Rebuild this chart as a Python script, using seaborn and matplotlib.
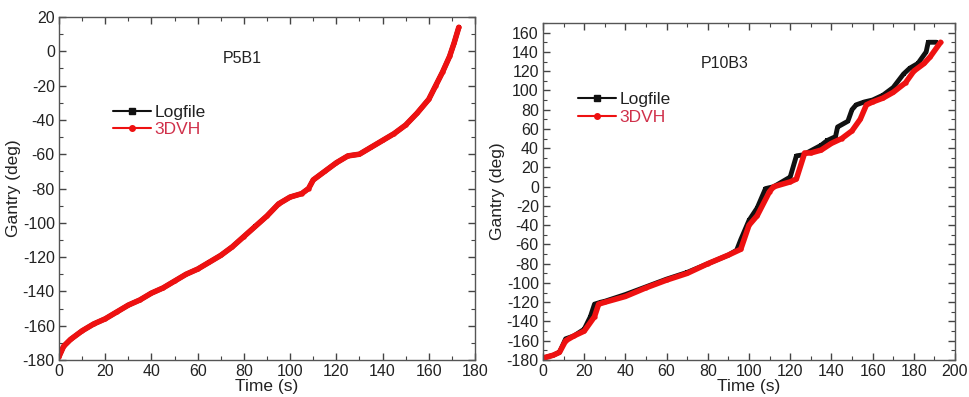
import numpy as np
import pandas as pd
import matplotlib
matplotlib.use('Agg')
import matplotlib.pyplot as plt
from matplotlib.lines import Line2D
from matplotlib.ticker import MultipleLocator
import seaborn as sns

# P5B1 (left panel): both series nearly identical
p5_time = [0, 1, 2, 5, 10, 15, 20, 25, 30, 35, 40, 45, 50, 55, 60, 65, 70, 75, 80, 85,
           90, 95, 100, 105, 108, 110, 115, 120, 125, 130, 135, 140, 145, 150, 155,
           160, 163, 166, 169, 171, 173]
p5_log = [-178, -175, -172, -168, -163, -159, -156, -152, -148, -145, -141, -138, -134,
          -130, -127, -123, -119, -114, -108, -102, -96, -89, -85, -83, -80, -75, -70,
          -65, -61, -60, -56, -52, -48, -43, -36, -28, -20, -12, -3, 5, 14]
p5_3dvh = [-178, -175, -172, -168, -163, -159, -156, -152, -148, -145, -141, -138, -134,
           -130, -127, -123, -119, -114, -108, -102, -96, -89, -85, -83, -80, -75, -70,
           -65, -61, -60, -56, -52, -48, -43, -36, -28, -20, -12, -3, 5, 14]

# P10B3 (right panel)
p10_log_time = [0, 5, 8, 11, 15, 20, 23, 25, 28, 30, 40, 50, 60, 70, 80, 90, 94, 96,
                100, 104, 108, 112, 120, 123, 126, 128, 135, 138, 142, 143, 148, 150,
                152, 156, 160, 165, 170, 175, 178, 182, 186, 187, 191]
p10_log = [-178, -175, -172, -158, -155, -148, -135, -122, -120, -119, -112, -104, -96,
           -89, -80, -71, -66, -55, -35, -22, -2, 0, 10, 32, 33, 35, 43, 48, 52, 62, 68,
           80, 85, 88, 90, 95, 103, 117, 123, 128, 140, 150, 150]
p10_3dvh_time = [0, 5, 8, 11, 15, 20, 25, 27, 30, 40, 50, 60, 70, 80, 90, 96, 100, 104,
                 110, 112, 120, 123, 127, 130, 135, 140, 145, 150, 154, 157, 160, 165,
                 170, 176, 180, 185, 188, 193]
p10_3dvh = [-178, -175, -172, -160, -155, -150, -135, -122, -120, -114, -105, -97, -90,
            -80, -71, -65, -40, -30, -5, 0, 5, 8, 35, 35, 38, 45, 50, 58, 70, 85, 88, 92,
            98, 108, 120, 128, 135, 150]

BLACK = '#111111'
RED = '#ee1111'
TEXT = '#222222'

sns.set_style('ticks')
plt.rcParams['font.family'] = ['Liberation Sans', 'DejaVu Sans']
plt.rcParams['axes.unicode_minus'] = False

fig = plt.figure(figsize=(9.69, 3.97), dpi=100)
ax1 = fig.add_axes([59 / 969, 37 / 397, 416 / 969, 343 / 397])
ax2 = fig.add_axes([543 / 969, 37 / 397, 412 / 969, 337 / 397])


def draw(ax, t_log, y_log, t_dvh, y_dvh):
    sns.lineplot(x=t_log, y=y_log, ax=ax, color=BLACK, lw=3.5, marker='s',
                 markersize=3, markeredgewidth=0, sort=False, estimator=None)
    sns.lineplot(x=t_dvh, y=y_dvh, ax=ax, color=RED, lw=4, marker='o',
                 markersize=3, markeredgewidth=0, sort=False, estimator=None)


draw(ax1, p5_time, p5_log, p5_time, p5_3dvh)
draw(ax2, p10_log_time, p10_log, p10_3dvh_time, p10_3dvh)

ax1.set_xlim(0, 180)
ax1.set_ylim(-180, 20)
ax2.set_xlim(0, 200)
ax2.set_ylim(-180, 170)
for ax in (ax1, ax2):
    ax.xaxis.set_major_locator(MultipleLocator(20))
    ax.xaxis.set_minor_locator(MultipleLocator(10))
    ax.yaxis.set_major_locator(MultipleLocator(20))
    ax.yaxis.set_minor_locator(MultipleLocator(10))

for ax, name, leg_x, leg_y in [(ax1, 'P5B1', 0.13, 0.745), (ax2, 'P10B3', 0.085, 0.795)]:
    ax.set_xlabel('Time (s)', fontsize=12.5, color=TEXT, labelpad=0)
    ax.set_ylabel('Gantry (deg)', fontsize=12.5, color=TEXT, labelpad=1)
    ax.tick_params(which='both', direction='in', top=True, right=True,
                   labelsize=11.5, labelcolor=TEXT, color='#444444', pad=3)
    ax.tick_params(which='major', length=5, width=1)
    ax.tick_params(which='minor', length=3, width=0.8)
    for s in ax.spines.values():
        s.set_color('#555555')
        s.set_linewidth(1)
    ax.text(0.44, 0.88, name, transform=ax.transAxes, fontsize=11.5,
            color=TEXT, ha='center', va='center')
    handles = [
        Line2D([], [], color=BLACK, lw=1.5, marker='s', markersize=4),
        Line2D([], [], color=RED, lw=1.5, marker='o', markersize=4),
    ]
    leg = ax.legend(handles, ['Logfile', '3DVH'], loc='upper left',
                    bbox_to_anchor=(leg_x, leg_y), frameon=False, fontsize=12.5,
                    handlelength=2.2, handletextpad=0.2, labelspacing=0.15,
                    borderaxespad=0, borderpad=0)
    leg.get_texts()[0].set_color(TEXT)
    leg.get_texts()[1].set_color('#d0304a')

fig.savefig('out.png', dpi=100)
